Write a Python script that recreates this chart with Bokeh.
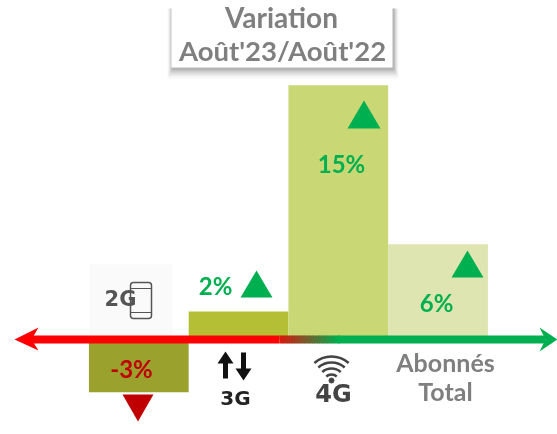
from bokeh.plotting import figure
from bokeh.embed import file_html
from bokeh.resources import INLINE
from bokeh.core.properties import value

# ---- data
categories = ["2G", "3G", "4G", "Abonnés Total"]
bar_values = [-3.1, 1.65, 14.95, 5.6]
bar_labels = ["-3%", "2%", "15%", "6%"]
bar_colors = ["#9aa12d", "#b5bf36", "#c9d775", "#dee5b0"]
title_lines = ["Variation", "Août'23/Août'22"]
GREEN, RED, DKRED, GREY = "#00b050", "#ff0000", "#c00000", "#7f7f7f"

W, H = 557, 434
X0, DX, Y0, DY = 138.3, 99.75, 339.0, 17.0
X = lambda px: (px - X0) / DX
Y = lambda py: (Y0 - py) / DY

p = figure(width=W, height=H, output_backend="svg", toolbar_location=None,
           x_range=(X(0), X(W)), y_range=(Y(H), Y(0)), min_border=0,
           outline_line_color=None, background_fill_color="white",
           border_fill_color="white",
           styles={"position": "fixed", "left": "0px", "top": "0px"})
p.axis.visible = False
p.grid.visible = False

FONT = value("Lato")
DV = value("DejaVu Sans")


def label(px, py, txt, color, size, font=FONT, style="bold"):
    p.text([X(px)], [Y(py)], text=[txt], text_color=color, text_font=font,
           text_font_size=f"{size}px", text_font_style=style,
           text_align="center", text_baseline="middle")


def poly(pts, color, alpha=1.0):
    p.patch([X(a) for a, _ in pts], [Y(b) for _, b in pts], fill_color=color,
            line_color=None, fill_alpha=alpha)


# 2G icon backdrop
p.quad(left=[X(89)], right=[X(172)], top=[Y(264)], bottom=[Y(335)],
       fill_color="#fafafa", line_color=None)

# bars
xs = list(range(len(categories)))
p.vbar(x=xs, top=bar_values, bottom=0, width=1.0,
       fill_color=bar_colors, line_color=None)

# title box with soft shadow
for grow, a in [(10, .04), (8, .06), (6, .08), (4, .11), (2, .16)]:
    p.quad(left=[X(171 - grow / 2 + 1)], right=[X(392 + grow / 2 + 1)], top=[Y(8)], bottom=[Y(68 + grow)],
           fill_color="#404040", fill_alpha=a, line_color=None)
p.quad(left=[X(171)], right=[X(392)], top=[Y(-1)], bottom=[Y(67)],
       fill_color="white", line_color=None)
label(281, 16, title_lines[0], GREY, 28)
label(282, 50, title_lines[1], GREY, 27.5)

# axis line with red to green gradient
p.segment(x0=[X(30)], x1=[X(279)], y0=[Y(339)], y1=[Y(339)], line_color=RED, line_width=8)
steps = 24
for i in range(steps):
    t = i / (steps - 1)
    c = "#%02x%02x%02x" % (int(215 + (0 - 215) * t), int(25 + (176 - 25) * t), int(15 + (80 - 15) * t))
    a = 279 + i * 60 / steps
    p.segment(x0=[X(a)], x1=[X(a + 60 / steps + .5)], y0=[Y(339)], y1=[Y(339)], line_color=c, line_width=8)
p.segment(x0=[X(338)], x1=[X(545)], y0=[Y(339)], y1=[Y(339)], line_color=GREEN, line_width=8)
poly([(14, 339), (38, 327), (31, 339), (38, 350)], RED)
poly([(557, 339), (539, 327), (545, 339), (539, 351)], GREEN)

# triangles
poly([(122, 394), (153, 394), (137.5, 421)], DKRED)
poly([(240, 297), (272, 297), (256, 270)], GREEN)
poly([(347, 128), (380, 128), (363.5, 100)], GREEN)
poly([(451, 277), (483, 277), (467, 250)], GREEN)

# value labels
label(131, 368, bar_labels[0], DKRED, 24)
label(215, 285, bar_labels[1], GREEN, 24)
label(341, 163, bar_labels[2], GREEN, 24)
label(436, 302, bar_labels[3], GREEN, 24)

# category labels
label(445, 361, "Abonnés", GREY, 25)
label(445, 390, "Total", GREY, 25)

# 2G icon
label(120, 298, "2G", "#555555", 21, DV, "bold")
p.quad(left=[X(130)], right=[X(151)], top=[Y(282)], bottom=[Y(318)], fill_alpha=0,
       line_color="#555555", line_width=1.5, border_radius=3)
p.segment(x0=[X(130)], x1=[X(151)], y0=[Y(288)], y1=[Y(288)], line_color="#555555", line_width=1)
p.segment(x0=[X(130)], x1=[X(151)], y0=[Y(312)], y1=[Y(312)], line_color="#555555", line_width=1)

# 3G icon
p.segment(x0=[X(225)], x1=[X(225)], y0=[Y(378)], y1=[Y(360)], line_color="#111111", line_width=5)
poly([(225, 351), (217, 363), (233, 363)], "#111111")
p.segment(x0=[X(243)], x1=[X(243)], y0=[Y(352)], y1=[Y(370)], line_color="#111111", line_width=5)
poly([(243, 380), (235, 368), (251, 368)], "#111111")
label(235, 397, "3G", "#222222", 20, DV)

# 4G icon
p.arc(x=[X(331)] * 4, y=[Y(382)] * 4, radius=[8, 14, 20, 26], radius_units="screen",
      start_angle=0.85, end_angle=2.29, line_color="#444444", line_width=2.5)
p.scatter([X(331)], [Y(380)], size=5, color="#444444")
label(333, 393, "4G", "#444444", 24, DV)

open("out.html", "w").write(file_html(p, INLINE))
